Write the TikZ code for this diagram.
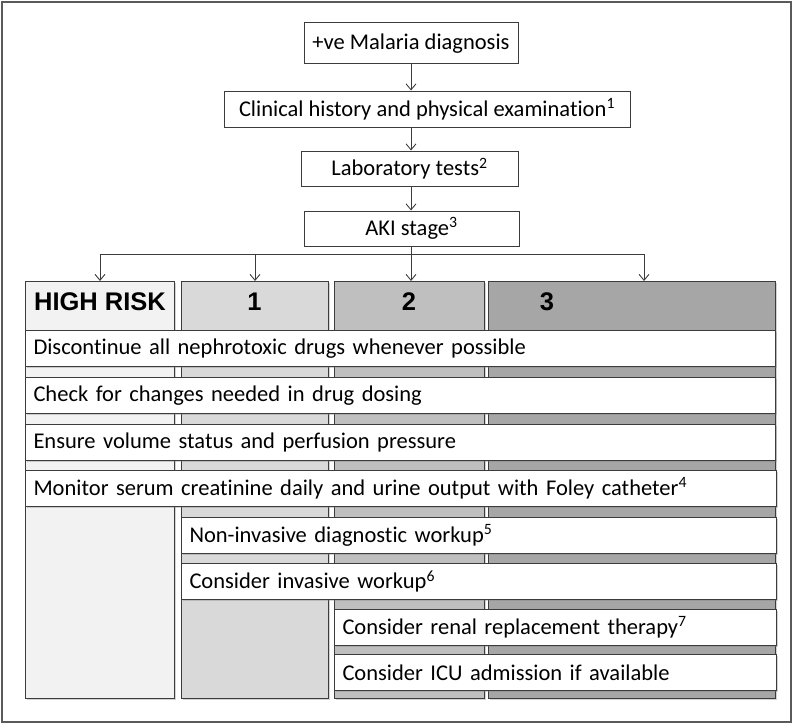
\documentclass[tikz,border=0pt]{standalone}
\usepackage{fontspec}
\setmainfont[Ligatures=NoCommon]{Carlito}
\newfontfamily\headfont{Liberation Sans}
\usetikzlibrary{arrows.meta,shadows}
\definecolor{boxline}{HTML}{3C3C3C}
\definecolor{frameline}{HTML}{5A5A5A}
\definecolor{riskfill}{HTML}{F2F2F2}
\definecolor{stageone}{HTML}{D9D9D9}
\definecolor{stagetwo}{HTML}{BFBFBF}
\definecolor{stagethree}{HTML}{A6A6A6}

\begin{document}
\begin{tikzpicture}[x=1pt,y=-1pt,
  >={Straight Barb[length=6pt,width=10pt]},
  shade/.style={drop shadow={shadow xshift=1.2pt,shadow yshift=-1.5pt,opacity=0.35}},
  box/.style={draw=boxline,fill=white,line width=1pt,inner sep=0pt,
    font=\fontsize{22.5}{26}\selectfont},
  colbox/.style={draw=boxline,line width=1pt,shade,anchor=north west,
    minimum height=417pt,inner sep=0pt},
  head/.style={font=\headfont\bfseries\fontsize{25.5}{28}\selectfont},
  act/.style={box,shade,anchor=north west,align=left,inner xsep=8pt,
    minimum height=36pt},
  link/.style={->,draw=boxline,line width=0.9pt}]
  \useasboundingbox (0,0) rectangle (800,725);
  %cornice
  \draw[frameline,line width=1.3pt] (2,2) rectangle (791,722);
  %flusso in alto
  \node[box,minimum width=214pt,minimum height=41pt] (diag) at (411,43.5) {+ve Malaria diagnosis};
  \node[box,minimum width=406pt,minimum height=36pt] (hist) at (427,109) {Clinical history and physical examination\textsuperscript{1}};
  \node[box,minimum width=217pt,minimum height=35pt] (lab) at (409.5,168.5) {Laboratory tests\textsuperscript{2}};
  \node[box,minimum width=215pt,minimum height=35pt] (aki) at (411.5,228.5) {AKI stage\textsuperscript{3}};
  \draw[link] (diag.south) -- (diag.south |- hist.north);
  \draw[link] (diag.south |- hist.south) -- (diag.south |- lab.north);
  \draw[link] (diag.south |- lab.south) -- (diag.south |- aki.north);
  %colonne
  \node[colbox,fill=riskfill,minimum width=149pt] (hrcol) at (25,281) {};
  \node[colbox,fill=stageone,minimum width=147pt] (c1col) at (181,281) {};
  \node[colbox,fill=stagetwo,minimum width=150pt] (c2col) at (334,281) {};
  \node[colbox,fill=stagethree,minimum width=287pt] (c3col) at (488,281) {};
  \node[head] (hr) at (100,302) {HIGH RISK};
  \node[head] (s1) at (254.5,302) {1};
  \node[head] (s2) at (409,302) {2};
  \node[head] (s3) at (547,302) {3};
  %frecce
  \coordinate (split) at (411,254);
  \coordinate (c3in) at (644,281);
  \draw[draw=boxline,line width=0.9pt] (aki.south -| split) -- (split);
  \draw[link] (split) -| (hrcol.north);
  \draw[link] (split) -| (c1col.north);
  \draw[link] (split) -- (split |- c2col.north);
  \draw[link] (split) -| (c3in);
  %azioni
  \node[act,text width=734pt] (a1) at (25,330) {Discontinue all nephrotoxic drugs whenever possible};
  \node[act,text width=734pt] (a2) at (25,377) {Check for changes needed in drug dosing};
  \node[act,text width=734pt] (a3) at (25,424) {Ensure volume status and perfusion pressure};
  \node[act,text width=735pt] (a4) at (25,470) {Monitor serum creatinine daily and urine output with Foley catheter\textsuperscript{4}};
  \node[act,text width=579pt] (a5) at (181,517) {Non-invasive diagnostic workup\textsuperscript{5}};
  \node[act,text width=579pt] (a6) at (181,563) {Consider invasive workup\textsuperscript{6}};
  \node[act,text width=426pt] (a7) at (334,609) {Consider renal replacement therapy\textsuperscript{7}};
  \node[act,text width=426pt] (a8) at (334,654) {Consider ICU admission if available};
\end{tikzpicture}
\end{document}
